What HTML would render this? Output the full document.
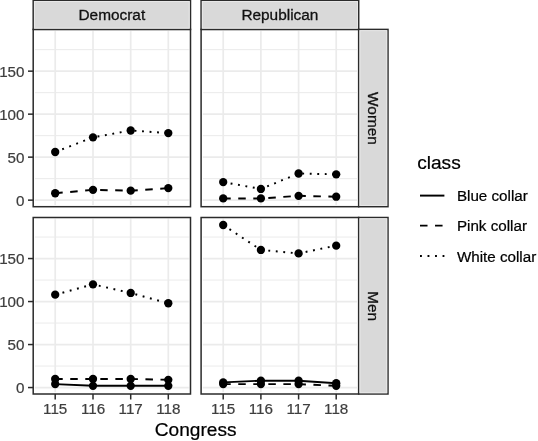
<!DOCTYPE html>
<html lang="en"><head><meta charset="utf-8"><title>Congress class plot</title>
<style>html,body{margin:0;padding:0;background:#fff}svg{display:block}text{stroke-width:0.22px;font-family:"Liberation Sans",Arial,Helvetica,sans-serif}</style>
</head><body>
<svg width="538" height="441" viewBox="0 0 538 441">
<rect width="538" height="441" fill="#ffffff"/>
<g>
<rect x="33.2" y="29.4" width="157.3" height="177.29999999999998" fill="#ffffff"/>
<line x1="33.2" x2="190.5" y1="178.65" y2="178.65" stroke="#ebebeb" stroke-width="1.0"/>
<line x1="33.2" x2="190.5" y1="135.65" y2="135.65" stroke="#ebebeb" stroke-width="1.0"/>
<line x1="33.2" x2="190.5" y1="92.65" y2="92.65" stroke="#ebebeb" stroke-width="1.0"/>
<line x1="33.2" x2="190.5" y1="49.65" y2="49.65" stroke="#ebebeb" stroke-width="1.0"/>
<line x1="33.2" x2="190.5" y1="200.15" y2="200.15" stroke="#ebebeb" stroke-width="1.7"/>
<line x1="33.2" x2="190.5" y1="157.15" y2="157.15" stroke="#ebebeb" stroke-width="1.7"/>
<line x1="33.2" x2="190.5" y1="114.15" y2="114.15" stroke="#ebebeb" stroke-width="1.7"/>
<line x1="33.2" x2="190.5" y1="71.15" y2="71.15" stroke="#ebebeb" stroke-width="1.7"/>
<line x1="55.20" x2="55.20" y1="29.4" y2="206.7" stroke="#ebebeb" stroke-width="1.7"/>
<line x1="93.00" x2="93.00" y1="29.4" y2="206.7" stroke="#ebebeb" stroke-width="1.7"/>
<line x1="130.70" x2="130.70" y1="29.4" y2="206.7" stroke="#ebebeb" stroke-width="1.7"/>
<line x1="168.30" x2="168.30" y1="29.4" y2="206.7" stroke="#ebebeb" stroke-width="1.7"/>
<rect x="34.45" y="30.65" width="154.80" height="174.80" fill="none" stroke="#ffffff" stroke-width="1"/>
<polyline points="55.20,193.27 93.00,189.83 130.70,190.69 168.30,188.11" fill="none" stroke="#000" stroke-width="1.95" stroke-dasharray="7.52 7.52"/>
<polyline points="55.20,151.99 93.00,137.37 130.70,130.49 168.30,133.07" fill="none" stroke="#000" stroke-width="1.95" stroke-dasharray="1.88 5.64"/>
<circle cx="55.20" cy="193.27" r="4.15" fill="#000"/>
<circle cx="93.00" cy="189.83" r="4.15" fill="#000"/>
<circle cx="130.70" cy="190.69" r="4.15" fill="#000"/>
<circle cx="168.30" cy="188.11" r="4.15" fill="#000"/>
<circle cx="55.20" cy="151.99" r="4.15" fill="#000"/>
<circle cx="93.00" cy="137.37" r="4.15" fill="#000"/>
<circle cx="130.70" cy="130.49" r="4.15" fill="#000"/>
<circle cx="168.30" cy="133.07" r="4.15" fill="#000"/>
<rect x="33.2" y="29.4" width="157.3" height="177.29999999999998" fill="none" stroke="#2b2b2b" stroke-width="1.5"/>
</g>
<g>
<rect x="201.1" y="29.4" width="157.6" height="177.29999999999998" fill="#ffffff"/>
<line x1="201.1" x2="358.7" y1="178.65" y2="178.65" stroke="#ebebeb" stroke-width="1.0"/>
<line x1="201.1" x2="358.7" y1="135.65" y2="135.65" stroke="#ebebeb" stroke-width="1.0"/>
<line x1="201.1" x2="358.7" y1="92.65" y2="92.65" stroke="#ebebeb" stroke-width="1.0"/>
<line x1="201.1" x2="358.7" y1="49.65" y2="49.65" stroke="#ebebeb" stroke-width="1.0"/>
<line x1="201.1" x2="358.7" y1="200.15" y2="200.15" stroke="#ebebeb" stroke-width="1.7"/>
<line x1="201.1" x2="358.7" y1="157.15" y2="157.15" stroke="#ebebeb" stroke-width="1.7"/>
<line x1="201.1" x2="358.7" y1="114.15" y2="114.15" stroke="#ebebeb" stroke-width="1.7"/>
<line x1="201.1" x2="358.7" y1="71.15" y2="71.15" stroke="#ebebeb" stroke-width="1.7"/>
<line x1="223.20" x2="223.20" y1="29.4" y2="206.7" stroke="#ebebeb" stroke-width="1.7"/>
<line x1="260.90" x2="260.90" y1="29.4" y2="206.7" stroke="#ebebeb" stroke-width="1.7"/>
<line x1="298.60" x2="298.60" y1="29.4" y2="206.7" stroke="#ebebeb" stroke-width="1.7"/>
<line x1="336.20" x2="336.20" y1="29.4" y2="206.7" stroke="#ebebeb" stroke-width="1.7"/>
<rect x="202.35" y="30.65" width="155.10" height="174.80" fill="none" stroke="#ffffff" stroke-width="1"/>
<polyline points="223.20,198.43 260.90,198.43 298.60,195.85 336.20,196.71" fill="none" stroke="#000" stroke-width="1.95" stroke-dasharray="7.52 7.52"/>
<polyline points="223.20,182.09 260.90,188.97 298.60,173.49 336.20,174.35" fill="none" stroke="#000" stroke-width="1.95" stroke-dasharray="1.88 5.64"/>
<circle cx="223.20" cy="198.43" r="4.15" fill="#000"/>
<circle cx="260.90" cy="198.43" r="4.15" fill="#000"/>
<circle cx="298.60" cy="195.85" r="4.15" fill="#000"/>
<circle cx="336.20" cy="196.71" r="4.15" fill="#000"/>
<circle cx="223.20" cy="182.09" r="4.15" fill="#000"/>
<circle cx="260.90" cy="188.97" r="4.15" fill="#000"/>
<circle cx="298.60" cy="173.49" r="4.15" fill="#000"/>
<circle cx="336.20" cy="174.35" r="4.15" fill="#000"/>
<rect x="201.1" y="29.4" width="157.6" height="177.29999999999998" fill="none" stroke="#2b2b2b" stroke-width="1.5"/>
</g>
<g>
<rect x="33.2" y="217.5" width="157.3" height="176.5" fill="#ffffff"/>
<line x1="33.2" x2="190.5" y1="366.05" y2="366.05" stroke="#ebebeb" stroke-width="1.0"/>
<line x1="33.2" x2="190.5" y1="323.05" y2="323.05" stroke="#ebebeb" stroke-width="1.0"/>
<line x1="33.2" x2="190.5" y1="280.05" y2="280.05" stroke="#ebebeb" stroke-width="1.0"/>
<line x1="33.2" x2="190.5" y1="237.05" y2="237.05" stroke="#ebebeb" stroke-width="1.0"/>
<line x1="33.2" x2="190.5" y1="387.55" y2="387.55" stroke="#ebebeb" stroke-width="1.7"/>
<line x1="33.2" x2="190.5" y1="344.55" y2="344.55" stroke="#ebebeb" stroke-width="1.7"/>
<line x1="33.2" x2="190.5" y1="301.55" y2="301.55" stroke="#ebebeb" stroke-width="1.7"/>
<line x1="33.2" x2="190.5" y1="258.55" y2="258.55" stroke="#ebebeb" stroke-width="1.7"/>
<line x1="55.20" x2="55.20" y1="217.5" y2="394.0" stroke="#ebebeb" stroke-width="1.7"/>
<line x1="93.00" x2="93.00" y1="217.5" y2="394.0" stroke="#ebebeb" stroke-width="1.7"/>
<line x1="130.70" x2="130.70" y1="217.5" y2="394.0" stroke="#ebebeb" stroke-width="1.7"/>
<line x1="168.30" x2="168.30" y1="217.5" y2="394.0" stroke="#ebebeb" stroke-width="1.7"/>
<rect x="34.45" y="218.75" width="154.80" height="174.00" fill="none" stroke="#ffffff" stroke-width="1"/>
<polyline points="55.20,384.11 93.00,385.83 130.70,385.83 168.30,385.83" fill="none" stroke="#000" stroke-width="1.95"/>
<polyline points="55.20,378.95 93.00,378.95 130.70,378.95 168.30,379.81" fill="none" stroke="#000" stroke-width="1.95" stroke-dasharray="7.52 7.52"/>
<polyline points="55.20,294.67 93.00,284.35 130.70,292.95 168.30,303.27" fill="none" stroke="#000" stroke-width="1.95" stroke-dasharray="1.88 5.64"/>
<circle cx="55.20" cy="384.11" r="4.15" fill="#000"/>
<circle cx="93.00" cy="385.83" r="4.15" fill="#000"/>
<circle cx="130.70" cy="385.83" r="4.15" fill="#000"/>
<circle cx="168.30" cy="385.83" r="4.15" fill="#000"/>
<circle cx="55.20" cy="378.95" r="4.15" fill="#000"/>
<circle cx="93.00" cy="378.95" r="4.15" fill="#000"/>
<circle cx="130.70" cy="378.95" r="4.15" fill="#000"/>
<circle cx="168.30" cy="379.81" r="4.15" fill="#000"/>
<circle cx="55.20" cy="294.67" r="4.15" fill="#000"/>
<circle cx="93.00" cy="284.35" r="4.15" fill="#000"/>
<circle cx="130.70" cy="292.95" r="4.15" fill="#000"/>
<circle cx="168.30" cy="303.27" r="4.15" fill="#000"/>
<rect x="33.2" y="217.5" width="157.3" height="176.5" fill="none" stroke="#2b2b2b" stroke-width="1.5"/>
</g>
<g>
<rect x="201.1" y="217.5" width="157.6" height="176.5" fill="#ffffff"/>
<line x1="201.1" x2="358.7" y1="366.05" y2="366.05" stroke="#ebebeb" stroke-width="1.0"/>
<line x1="201.1" x2="358.7" y1="323.05" y2="323.05" stroke="#ebebeb" stroke-width="1.0"/>
<line x1="201.1" x2="358.7" y1="280.05" y2="280.05" stroke="#ebebeb" stroke-width="1.0"/>
<line x1="201.1" x2="358.7" y1="237.05" y2="237.05" stroke="#ebebeb" stroke-width="1.0"/>
<line x1="201.1" x2="358.7" y1="387.55" y2="387.55" stroke="#ebebeb" stroke-width="1.7"/>
<line x1="201.1" x2="358.7" y1="344.55" y2="344.55" stroke="#ebebeb" stroke-width="1.7"/>
<line x1="201.1" x2="358.7" y1="301.55" y2="301.55" stroke="#ebebeb" stroke-width="1.7"/>
<line x1="201.1" x2="358.7" y1="258.55" y2="258.55" stroke="#ebebeb" stroke-width="1.7"/>
<line x1="223.20" x2="223.20" y1="217.5" y2="394.0" stroke="#ebebeb" stroke-width="1.7"/>
<line x1="260.90" x2="260.90" y1="217.5" y2="394.0" stroke="#ebebeb" stroke-width="1.7"/>
<line x1="298.60" x2="298.60" y1="217.5" y2="394.0" stroke="#ebebeb" stroke-width="1.7"/>
<line x1="336.20" x2="336.20" y1="217.5" y2="394.0" stroke="#ebebeb" stroke-width="1.7"/>
<rect x="202.35" y="218.75" width="155.10" height="174.00" fill="none" stroke="#ffffff" stroke-width="1"/>
<polyline points="223.20,382.39 260.90,380.67 298.60,380.67 336.20,383.25" fill="none" stroke="#000" stroke-width="1.95"/>
<polyline points="223.20,384.11 260.90,384.11 298.60,384.11 336.20,385.83" fill="none" stroke="#000" stroke-width="1.95" stroke-dasharray="7.52 7.52"/>
<polyline points="223.20,225.01 260.90,249.95 298.60,253.39 336.20,245.65" fill="none" stroke="#000" stroke-width="1.95" stroke-dasharray="1.88 5.64"/>
<circle cx="223.20" cy="382.39" r="4.15" fill="#000"/>
<circle cx="260.90" cy="380.67" r="4.15" fill="#000"/>
<circle cx="298.60" cy="380.67" r="4.15" fill="#000"/>
<circle cx="336.20" cy="383.25" r="4.15" fill="#000"/>
<circle cx="223.20" cy="384.11" r="4.15" fill="#000"/>
<circle cx="260.90" cy="384.11" r="4.15" fill="#000"/>
<circle cx="298.60" cy="384.11" r="4.15" fill="#000"/>
<circle cx="336.20" cy="385.83" r="4.15" fill="#000"/>
<circle cx="223.20" cy="225.01" r="4.15" fill="#000"/>
<circle cx="260.90" cy="249.95" r="4.15" fill="#000"/>
<circle cx="298.60" cy="253.39" r="4.15" fill="#000"/>
<circle cx="336.20" cy="245.65" r="4.15" fill="#000"/>
<rect x="201.1" y="217.5" width="157.6" height="176.5" fill="none" stroke="#2b2b2b" stroke-width="1.5"/>
</g>
<rect x="33.2" y="0.25" width="157.3" height="29.15" fill="#d9d9d9" stroke="#2b2b2b" stroke-width="1.5"/>
<rect x="34.45" y="1.50" width="154.80" height="26.65" fill="none" stroke="#e8e8e8" stroke-width="1"/>
<text x="111.85" y="20.3" font-size="15.4" fill="#111" stroke="#111" style="stroke-width:0.3px" text-anchor="middle">Democrat</text>
<rect x="201.1" y="0.25" width="157.6" height="29.15" fill="#d9d9d9" stroke="#2b2b2b" stroke-width="1.5"/>
<rect x="202.35" y="1.50" width="155.10" height="26.65" fill="none" stroke="#e8e8e8" stroke-width="1"/>
<text x="279.90" y="20.3" font-size="15.4" fill="#111" stroke="#111" style="stroke-width:0.3px" text-anchor="middle">Republican</text>
<rect x="358.7" y="29.4" width="29.30000000000001" height="177.29999999999998" fill="#d9d9d9" stroke="#2b2b2b" stroke-width="1.5"/>
<rect x="359.95" y="30.65" width="26.80" height="174.80" fill="none" stroke="#e8e8e8" stroke-width="1"/>
<text transform="translate(368.35,118.45) rotate(90)" font-size="15.4" fill="#111" stroke="#111" style="stroke-width:0.3px" text-anchor="middle">Women</text>
<rect x="358.7" y="217.5" width="29.30000000000001" height="176.5" fill="#d9d9d9" stroke="#2b2b2b" stroke-width="1.5"/>
<rect x="359.95" y="218.75" width="26.80" height="174.00" fill="none" stroke="#e8e8e8" stroke-width="1"/>
<text transform="translate(368.35,306.15) rotate(90)" font-size="15.4" fill="#111" stroke="#111" style="stroke-width:0.3px" text-anchor="middle">Men</text>
<line x1="28.0" x2="33.5" y1="200.15" y2="200.15" stroke="#2b2b2b" stroke-width="1.5"/>
<text x="24.5" y="205.85" font-size="15.2" fill="#3e3e3e" stroke="#3e3e3e" text-anchor="end">0</text>
<line x1="28.0" x2="33.5" y1="157.15" y2="157.15" stroke="#2b2b2b" stroke-width="1.5"/>
<text x="24.5" y="162.85" font-size="15.2" fill="#3e3e3e" stroke="#3e3e3e" text-anchor="end">50</text>
<line x1="28.0" x2="33.5" y1="114.15" y2="114.15" stroke="#2b2b2b" stroke-width="1.5"/>
<text x="24.5" y="119.85" font-size="15.2" fill="#3e3e3e" stroke="#3e3e3e" text-anchor="end">100</text>
<line x1="28.0" x2="33.5" y1="71.15" y2="71.15" stroke="#2b2b2b" stroke-width="1.5"/>
<text x="24.5" y="76.85" font-size="15.2" fill="#3e3e3e" stroke="#3e3e3e" text-anchor="end">150</text>
<line x1="28.0" x2="33.5" y1="387.55" y2="387.55" stroke="#2b2b2b" stroke-width="1.5"/>
<text x="24.5" y="393.25" font-size="15.2" fill="#3e3e3e" stroke="#3e3e3e" text-anchor="end">0</text>
<line x1="28.0" x2="33.5" y1="344.55" y2="344.55" stroke="#2b2b2b" stroke-width="1.5"/>
<text x="24.5" y="350.25" font-size="15.2" fill="#3e3e3e" stroke="#3e3e3e" text-anchor="end">50</text>
<line x1="28.0" x2="33.5" y1="301.55" y2="301.55" stroke="#2b2b2b" stroke-width="1.5"/>
<text x="24.5" y="307.25" font-size="15.2" fill="#3e3e3e" stroke="#3e3e3e" text-anchor="end">100</text>
<line x1="28.0" x2="33.5" y1="258.55" y2="258.55" stroke="#2b2b2b" stroke-width="1.5"/>
<text x="24.5" y="264.25" font-size="15.2" fill="#3e3e3e" stroke="#3e3e3e" text-anchor="end">150</text>
<line x1="55.20" x2="55.20" y1="394.0" y2="399.5" stroke="#2b2b2b" stroke-width="1.5"/>
<text x="55.20" y="414.1" font-size="15.2" fill="#3e3e3e" stroke="#3e3e3e" text-anchor="middle">115</text>
<line x1="93.00" x2="93.00" y1="394.0" y2="399.5" stroke="#2b2b2b" stroke-width="1.5"/>
<text x="93.00" y="414.1" font-size="15.2" fill="#3e3e3e" stroke="#3e3e3e" text-anchor="middle">116</text>
<line x1="130.70" x2="130.70" y1="394.0" y2="399.5" stroke="#2b2b2b" stroke-width="1.5"/>
<text x="130.70" y="414.1" font-size="15.2" fill="#3e3e3e" stroke="#3e3e3e" text-anchor="middle">117</text>
<line x1="168.30" x2="168.30" y1="394.0" y2="399.5" stroke="#2b2b2b" stroke-width="1.5"/>
<text x="168.30" y="414.1" font-size="15.2" fill="#3e3e3e" stroke="#3e3e3e" text-anchor="middle">118</text>
<line x1="223.20" x2="223.20" y1="394.0" y2="399.5" stroke="#2b2b2b" stroke-width="1.5"/>
<text x="223.20" y="414.1" font-size="15.2" fill="#3e3e3e" stroke="#3e3e3e" text-anchor="middle">115</text>
<line x1="260.90" x2="260.90" y1="394.0" y2="399.5" stroke="#2b2b2b" stroke-width="1.5"/>
<text x="260.90" y="414.1" font-size="15.2" fill="#3e3e3e" stroke="#3e3e3e" text-anchor="middle">116</text>
<line x1="298.60" x2="298.60" y1="394.0" y2="399.5" stroke="#2b2b2b" stroke-width="1.5"/>
<text x="298.60" y="414.1" font-size="15.2" fill="#3e3e3e" stroke="#3e3e3e" text-anchor="middle">117</text>
<line x1="336.20" x2="336.20" y1="394.0" y2="399.5" stroke="#2b2b2b" stroke-width="1.5"/>
<text x="336.20" y="414.1" font-size="15.2" fill="#3e3e3e" stroke="#3e3e3e" text-anchor="middle">118</text>
<text x="195.7" y="435.8" font-size="19.1" fill="#000" stroke="#000" text-anchor="middle">Congress</text>
<text x="417.2" y="169.3" font-size="19.1" fill="#000" stroke="#000">class</text>
<line x1="420.0" x2="444.4" y1="195.6" y2="195.6" stroke="#000" stroke-width="1.95"/>
<text x="456.9" y="201.40" font-size="15.2" fill="#000" stroke="#000">Blue collar</text>
<line x1="420.0" x2="444.4" y1="225.6" y2="225.6" stroke="#000" stroke-width="1.95" stroke-dasharray="7.52 7.52"/>
<text x="456.9" y="231.40" font-size="15.2" fill="#000" stroke="#000">Pink collar</text>
<line x1="420.0" x2="444.4" y1="255.9" y2="255.9" stroke="#000" stroke-width="1.95" stroke-dasharray="1.88 5.64"/>
<text x="456.9" y="261.70" font-size="15.2" fill="#000" stroke="#000">White collar</text>
</svg></body></html>
